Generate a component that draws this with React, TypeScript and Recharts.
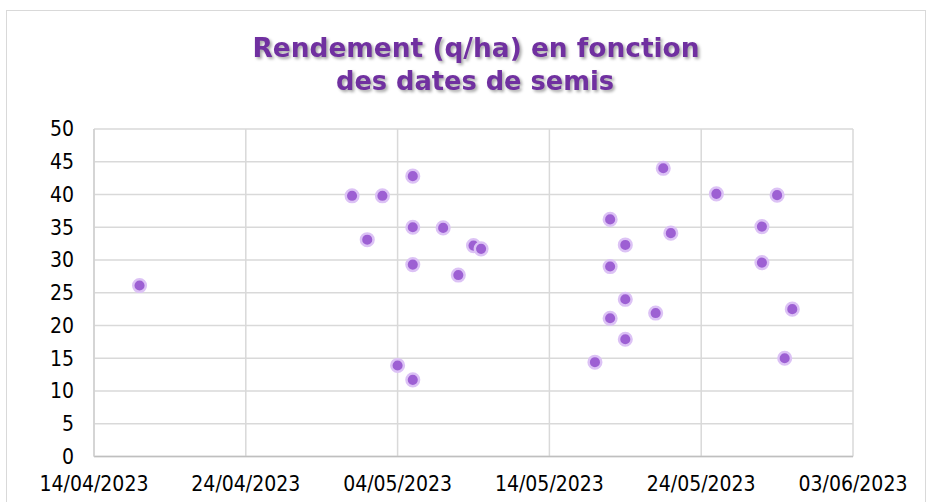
import React from "react";
import { CartesianGrid, Scatter, ScatterChart, XAxis, YAxis } from "recharts";

// dates de semis (some recorded at midday)
const sowingDates = [
  "2023-04-17T00:00", "2023-05-01T00:00", "2023-05-02T00:00", "2023-05-03T00:00",
  "2023-05-04T00:00", "2023-05-05T00:00", "2023-05-05T00:00", "2023-05-05T00:00",
  "2023-05-05T00:00", "2023-05-07T00:00", "2023-05-08T00:00", "2023-05-09T00:00",
  "2023-05-09T12:00", "2023-05-17T00:00", "2023-05-18T00:00", "2023-05-18T00:00",
  "2023-05-18T00:00", "2023-05-19T00:00", "2023-05-19T00:00", "2023-05-19T00:00",
  "2023-05-21T00:00", "2023-05-21T12:00", "2023-05-22T00:00", "2023-05-25T00:00",
  "2023-05-28T00:00", "2023-05-28T00:00", "2023-05-29T00:00", "2023-05-29T12:00",
  "2023-05-30T00:00",
];

// rendement (q/ha)
const yields = [
  26.1, 39.8, 33.1, 39.8,
  13.9, 42.8, 35.0, 29.3,
  11.7, 34.9, 27.7, 32.2,
  31.7, 14.4, 36.2, 29.0,
  21.1, 32.3, 24.0, 17.9,
  21.9, 44.0, 34.1, 40.1,
  35.1, 29.6, 39.9, 15.0,
  22.5,
];

const xTickDates = [
  "2023-04-14T00:00", "2023-04-24T00:00", "2023-05-04T00:00",
  "2023-05-14T00:00", "2023-05-24T00:00", "2023-06-03T00:00",
];
const yTicks = [0, 5, 10, 15, 20, 25, 30, 35, 40, 45, 50];

const toTs = (s: string) => Date.parse(s + "Z");
const xTicks = xTickDates.map(toTs);

const data = sowingDates.map((d, i) => ({ x: toTs(d), y: yields[i] }));

const fmtDate = (ts: number) => {
  const d = new Date(ts);
  const dd = String(d.getUTCDate()).padStart(2, "0");
  const mm = String(d.getUTCMonth() + 1).padStart(2, "0");
  return `${dd}/${mm}/${d.getUTCFullYear()}`;
};

const tickFont = {
  fill: "#000",
  fontSize: 21,
  fontFamily: "'DejaVu Sans Condensed', 'DejaVu Sans', sans-serif",
  fontStretch: "condensed",
};

const Dot = (props: any) => (
  <circle
    cx={props.cx}
    cy={props.cy}
    r={6.3}
    fill="#9d60d3"
    stroke="#dcc2f5"
    strokeWidth={2.5}
  />
);

export default function App() {
  return (
    <div style={{ position: "absolute", left: 0, top: 0, width: 929, height: 502, background: "#fff", overflow: "hidden" }}>
      <div
        style={{
          position: "absolute",
          left: 6,
          top: 10,
          width: 918,
          height: 520,
          border: "1.5px solid #d9d9d9",
        }}
      />
      <svg
        width={929}
        height={110}
        style={{ position: "absolute", left: 0, top: 0, filter: "drop-shadow(2px 2px 1.5px rgba(0,0,0,0.35))" }}
      >
        <g fill="#7030a0" fontFamily="'DejaVu Sans', sans-serif" fontWeight="bold" fontSize={26} textAnchor="middle">
          <text x={476} y={57} textLength={447} lengthAdjust="spacingAndGlyphs">
            Rendement (q/ha) en fonction
          </text>
          <text x={475} y={90} textLength={278} lengthAdjust="spacingAndGlyphs">
            des dates de semis
          </text>
        </g>
      </svg>
      <div style={{ position: "absolute", left: 0, top: 0 }}>
        <ScatterChart width={929} height={502} margin={{ top: 129, right: 76, left: 0, bottom: 15.5 }}>
          <CartesianGrid stroke="#d9d9d9" strokeWidth={1.5} />
          <XAxis
            type="number"
            dataKey="x"
            domain={[xTicks[0], xTicks[xTicks.length - 1]]}
            ticks={xTicks}
            interval={0}
            tickFormatter={fmtDate}
            tick={tickFont}
            tickLine={false}
            tickSize={0}
            tickMargin={20}
            axisLine={{ stroke: "#bfbfbf", strokeWidth: 1.5 }}
            height={30}
          />
          <YAxis
            type="number"
            dataKey="y"
            domain={[0, 50]}
            ticks={yTicks}
            interval={0}
            tick={tickFont}
            tickLine={false}
            tickSize={0}
            tickMargin={20}
            axisLine={{ stroke: "#d0d0d0", strokeWidth: 1.5 }}
            width={94}
          />
          <Scatter data={data} shape={Dot} isAnimationActive={false} />
        </ScatterChart>
      </div>
    </div>
  );
}
